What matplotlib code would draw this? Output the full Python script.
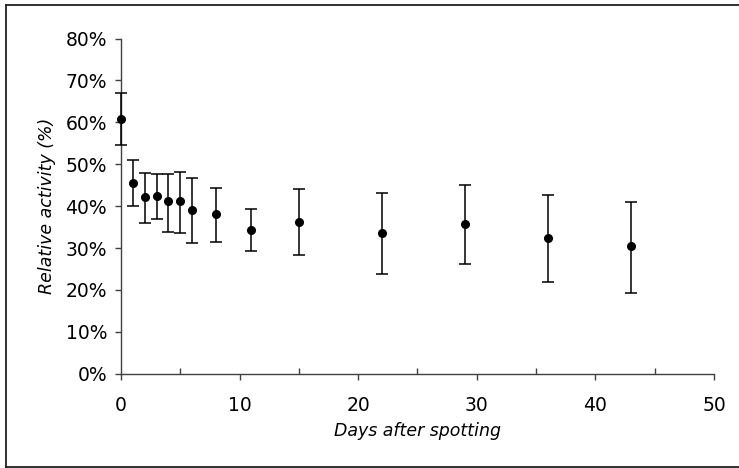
import matplotlib
matplotlib.use('Agg')
import matplotlib.pyplot as plt
from matplotlib.lines import Line2D
from matplotlib.ticker import MultipleLocator, PercentFormatter

days = [0, 1, 2, 3, 4, 5, 6, 8, 11, 15, 22, 29, 36, 43]
activity = [60.8, 45.4, 42.1, 42.4, 41.1, 41.1, 39.1, 38.1, 34.4, 36.1, 33.7, 35.8, 32.4, 30.4]
err_low = [6.2, 5.4, 6.1, 5.5, 7.2, 7.4, 7.8, 6.6, 5.1, 7.8, 9.8, 9.5, 10.5, 11.2]
err_high = [6.1, 5.6, 5.8, 5.2, 6.5, 7.1, 7.5, 6.2, 4.8, 7.9, 9.5, 9.2, 10.2, 10.5]

fig = plt.figure(figsize=(7.39, 4.68), dpi=100)
ax = fig.add_axes([0.1637, 0.2015, 0.8025, 0.7162])

eb = ax.errorbar(days, activity, yerr=[err_low, err_high], fmt='o', color='black',
                 markersize=5.5, elinewidth=1.1, capsize=4.5, capthick=1.1)
for art in eb.get_children():
    art.set_clip_on(False)

ax.set_xlim(0, 50)
ax.set_ylim(0, 80)
ax.xaxis.set_major_locator(MultipleLocator(10))
ax.xaxis.set_minor_locator(MultipleLocator(5))
ax.yaxis.set_major_locator(MultipleLocator(10))
ax.yaxis.set_major_formatter(PercentFormatter(decimals=0))

for s in ['top', 'right']:
    ax.spines[s].set_visible(False)
for s in ['left', 'bottom']:
    ax.spines[s].set_color('#404040')
    ax.spines[s].set_linewidth(1.0)
    ax.spines[s].set_zorder(0)

ax.tick_params(axis='both', which='major', direction='out', length=4, width=1,
               color='#404040', labelsize=13.5, pad=6)
ax.tick_params(axis='x', which='major', pad=12)
ax.tick_params(axis='x', which='minor', direction='in', length=4, width=1, color='#404040')
ax.tick_params(axis='y', which='minor', left=False)

ax.set_xlabel('Days after spotting', fontstyle='italic', fontsize=12.5, labelpad=5)
ax.set_ylabel('Relative activity (%)', fontstyle='italic', fontsize=12.5, labelpad=7)

# chart frame (left, top, bottom; right edge is off the image)
x0, y0, y1 = 6 / 739, 1 - 467 / 468, 1 - 5 / 468
for xs, ys in [([x0, x0], [y0, y1]), ([x0, 1.0], [y1, y1]), ([x0, 1.0], [y0, y0])]:
    fig.add_artist(Line2D(xs, ys, transform=fig.transFigure, color='#202020', linewidth=1.3))

fig.savefig('out.png', dpi=100)
